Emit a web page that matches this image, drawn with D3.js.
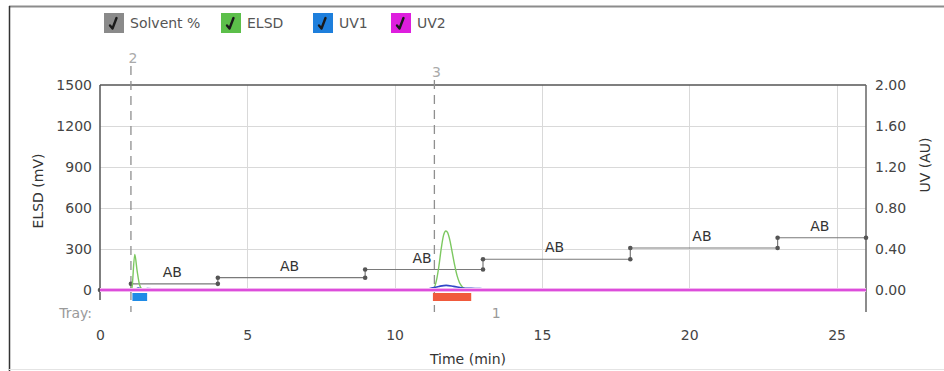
<!DOCTYPE html>
<html>
<head>
<meta charset="utf-8">
<script src="https://cdn.jsdelivr.net/npm/d3@7"></script>
<style>
  html, body { margin: 0; padding: 0; background: #fff; }
  svg { display: block; font-family: "DejaVu Sans", sans-serif; }
</style>
</head>
<body>
<svg id="chart" width="944" height="371"></svg>
<script>
// Time axis (min)
const timeTicks = [0, 5, 10, 15, 20, 25];
// Left axis: ELSD (mV)
const elsdTicks = [0, 300, 600, 900, 1200, 1500];
// Right axis: UV (AU)
const uvTicks = [0, 0.4, 0.8, 1.2, 1.6, 2.0];

// Solvent gradient: hold steps (time, % B)
const solventTime = [0, 1.05, 4, 9, 13, 18, 23, 26];
const solventPct  = [0, 3, 6, 10, 15, 20.5, 25.5, 25.5];
const solventLabel = ["", "AB", "AB", "AB", "AB", "AB", "AB"];

// ELSD trace (mV)
const elsdTime  = [0, 1.04, 1.08, 1.18, 1.26, 1.34, 1.42, 1.55, 11.2, 11.32, 11.42, 11.5, 11.58, 11.66, 11.74, 11.8, 11.88, 11.96, 12.04, 12.12, 12.2, 12.3, 12.42, 12.55, 26];
const elsdValue = [0, 0, 10, 260, 140, 40, 8, 0, 0, 10, 70, 170, 300, 400, 432, 420, 360, 270, 180, 105, 55, 22, 6, 0, 0];

// UV1 trace (AU)
const uv1Time  = [0, 1.15, 1.3, 1.45, 1.6, 1.75, 1.9, 10.9, 11.2, 11.5, 11.75, 12.0, 12.3, 12.6, 12.9, 13.3, 20.8, 20.9, 21.8, 21.9, 26];
const uv1Value = [0, 0, 0.018, 0.006, 0.015, 0.012, 0, 0, 0.015, 0.035, 0.045, 0.035, 0.02, 0.016, 0.014, 0, 0, 0.012, 0.012, 0, 0];

// UV2 trace (AU)
const uv2Time  = [0, 26];
const uv2Value = [0, 0];

// Vial markers
const markerTime  = [1.05, 11.35];
const markerLabel = ["2", "3"];

// Collected fractions (min) and tray numbers
const fracStart = [1.1, 11.3];
const fracEnd   = [1.6, 12.6];
const fracColor = ["#1f8be6", "#f05a3c"];
const trayTime  = [13.45];
const trayLabel = ["1"];

// Legend
const legendNames  = ["Solvent %", "ELSD", "UV1", "UV2"];
const legendColors = ["#8a8a8a", "#5cbf4a", "#1e7fdc", "#de1ede"];

const svg = d3.select("#chart");

const x = d3.scaleLinear().domain([0, 26]).range([100, 866]);
const yL = d3.scaleLinear().domain([0, 1500]).range([290, 85]);
const yR = d3.scaleLinear().domain([0, 2]).range([290, 85]);
const yS = d3.scaleLinear().domain([0, 100]).range([290, 85]);

// outer frame
svg.append("line").attr("x1", 9).attr("x2", 944).attr("y1", 6.5).attr("y2", 6.5)
  .attr("stroke", "#8c8c8c").attr("stroke-width", 2);
svg.append("line").attr("x1", 9.5).attr("x2", 9.5).attr("y1", 6).attr("y2", 371)
  .attr("stroke", "#333").attr("stroke-width", 1.5);
svg.append("line").attr("x1", 9).attr("x2", 944).attr("y1", 369.5).attr("y2", 369.5)
  .attr("stroke", "#e4e4e4").attr("stroke-width", 1);

// legend
const leg = svg.append("g");
const legX = [104, 221, 313, 391];
legendNames.forEach((n, i) => {
  const g = leg.append("g").attr("transform", `translate(${legX[i]},13)`);
  g.append("rect").attr("width", 20).attr("height", 20).attr("fill", legendColors[i]);
  g.append("path").attr("d", "M6,12.5 L8.5,15.5 L12.5,5")
    .attr("fill", "none").attr("stroke", "#1a1a1a").attr("stroke-width", 2.4)
    .attr("stroke-linecap", "round").attr("stroke-linejoin", "round");
  g.append("text").attr("x", 26).attr("y", 15).attr("font-size", 14)
    .attr("fill", "#555").text(n);
});

// gridlines
const grid = svg.append("g").attr("stroke", "#d9d9d9").attr("stroke-width", 1);
elsdTicks.filter(d => d > 0 && d < 1500).forEach(d => {
  grid.append("line").attr("x1", x(0)).attr("x2", x(26))
    .attr("y1", Math.round(yL(d)) + 0.5).attr("y2", Math.round(yL(d)) + 0.5);
});
timeTicks.filter(d => d > 0).forEach(d => {
  grid.append("line").attr("x1", Math.round(x(d)) + 0.5).attr("x2", Math.round(x(d)) + 0.5)
    .attr("y1", 85).attr("y2", 290);
});

// frame of plot: top border and side axes
svg.append("line").attr("x1", x(0)).attr("x2", x(26)).attr("y1", 85).attr("y2", 85)
  .attr("stroke", "#555").attr("stroke-width", 1.5);
svg.append("line").attr("x1", x(0)).attr("x2", x(0)).attr("y1", 85).attr("y2", 300)
  .attr("stroke", "#555").attr("stroke-width", 1.5);
svg.append("line").attr("x1", x(26)).attr("x2", x(26)).attr("y1", 85).attr("y2", 312)
  .attr("stroke", "#666").attr("stroke-width", 1.5);

// tick labels via d3 axes (lines hidden; only tick text)
const axL = svg.append("g").attr("transform", `translate(${x(0)},0)`)
  .call(d3.axisLeft(yL).tickValues(elsdTicks).tickSize(0).tickPadding(8).tickFormat(d3.format("d")));
const axR = svg.append("g").attr("transform", `translate(${x(26)},0)`)
  .call(d3.axisRight(yR).tickValues(uvTicks).tickSize(0).tickPadding(9).tickFormat(d3.format(".2f")));
const axB = svg.append("g").attr("transform", `translate(0,330)`)
  .call(d3.axisBottom(x).tickValues(timeTicks).tickSize(0).tickPadding(0).tickFormat(d3.format("d")));
[axL, axR, axB].forEach(a => {
  a.select(".domain").remove();
  a.selectAll("text").attr("font-size", 14).attr("fill", "#444")
    .attr("font-family", "DejaVu Sans, sans-serif");
});

// axis titles
svg.append("text").attr("transform", "translate(43,191) rotate(-90)")
  .attr("text-anchor", "middle").attr("font-size", 14).attr("fill", "#333").text("ELSD (mV)");
svg.append("text").attr("transform", "translate(930,165) rotate(-90)")
  .attr("text-anchor", "middle").attr("font-size", 14).attr("fill", "#333").text("UV (AU)");
svg.append("text").attr("x", 468).attr("y", 364)
  .attr("text-anchor", "middle").attr("font-size", 14).attr("fill", "#333").text("Time (min)");

// vial markers
markerTime.forEach((t, i) => {
  const top = i === 0 ? 66 : 80;
  svg.append("line").attr("x1", x(t)).attr("x2", x(t)).attr("y1", top).attr("y2", 312)
    .attr("stroke", "#8f8f8f").attr("stroke-width", 1.3).attr("stroke-dasharray", "9,6");
  svg.append("text").attr("x", x(t) + 2).attr("y", top - 3).attr("text-anchor", "middle")
    .attr("font-size", 14).attr("fill", "#aaa").text(markerLabel[i]);
});

// solvent gradient steps
const solPts = solventTime.map((t, i) => [t, solventPct[i]]);
svg.append("path").datum(solPts)
  .attr("d", d3.line().x(d => x(d[0])).y(d => yS(d[1])).curve(d3.curveStepAfter))
  .attr("fill", "none").attr("stroke", "#7a7a7a").attr("stroke-width", 1.2);
const dots = [[0, 0]];
for (let i = 1; i < solventTime.length - 1; i++) {
  dots.push([solventTime[i], solventPct[i - 1]]);
  dots.push([solventTime[i], solventPct[i]]);
}
dots.push([26, solventPct[solventPct.length - 1]]);
svg.append("g").selectAll("circle").data(dots).join("circle")
  .attr("cx", d => x(d[0])).attr("cy", d => yS(d[1])).attr("r", 2.3).attr("fill", "#555");
solventLabel.forEach((l, i) => {
  if (!l) return;
  const mid = (solventTime[i] + solventTime[i + 1]) / 2;
  svg.append("text").attr("x", x(mid) - 2).attr("y", yS(solventPct[i]) - 7)
    .attr("text-anchor", "middle").attr("font-size", 14).attr("fill", "#333").text(l);
});

// ELSD
svg.append("path").datum(elsdTime.map((t, i) => [t, elsdValue[i]]))
  .attr("d", d3.line().x(d => x(d[0])).y(d => yL(d[1])).curve(d3.curveMonotoneX))
  .attr("fill", "none").attr("stroke", "#7cc860").attr("stroke-width", 1.4);

// UV1 (drawn beneath the UV2 baseline)
svg.append("path").datum(uv1Time.map((t, i) => [t, uv1Value[i]]))
  .attr("d", d3.line().x(d => x(d[0])).y(d => yR(d[1])).curve(d3.curveMonotoneX))
  .attr("fill", "none").attr("stroke", "#3046c8").attr("stroke-width", 1.6);

// UV2 baseline (magenta with soft halo)
const uv2Pts = uv2Time.map((t, i) => [t, uv2Value[i]]);
const uvLine = d3.line().x(d => x(d[0])).y(d => yR(d[1]));
svg.append("path").datum(uv2Pts).attr("d", uvLine)
  .attr("fill", "none").attr("stroke", "#f2b6ef").attr("stroke-width", 4);
svg.append("path").datum(uv2Pts).attr("d", uvLine)
  .attr("fill", "none").attr("stroke", "#d42ad4").attr("stroke-width", 1.5);

// fractions
fracStart.forEach((s, i) => {
  svg.append("rect").attr("x", x(s)).attr("y", 293)
    .attr("width", x(fracEnd[i]) - x(s)).attr("height", 8).attr("fill", fracColor[i]);
});

// tray labels
svg.append("text").attr("x", 92).attr("y", 318).attr("text-anchor", "end")
  .attr("font-size", 14).attr("fill", "#9a9a9a").text("Tray:");
trayTime.forEach((t, i) => {
  svg.append("text").attr("x", x(t)).attr("y", 318).attr("text-anchor", "middle")
    .attr("font-size", 14).attr("fill", "#9a9a9a").text(trayLabel[i]);
});
</script>
</body>
</html>
